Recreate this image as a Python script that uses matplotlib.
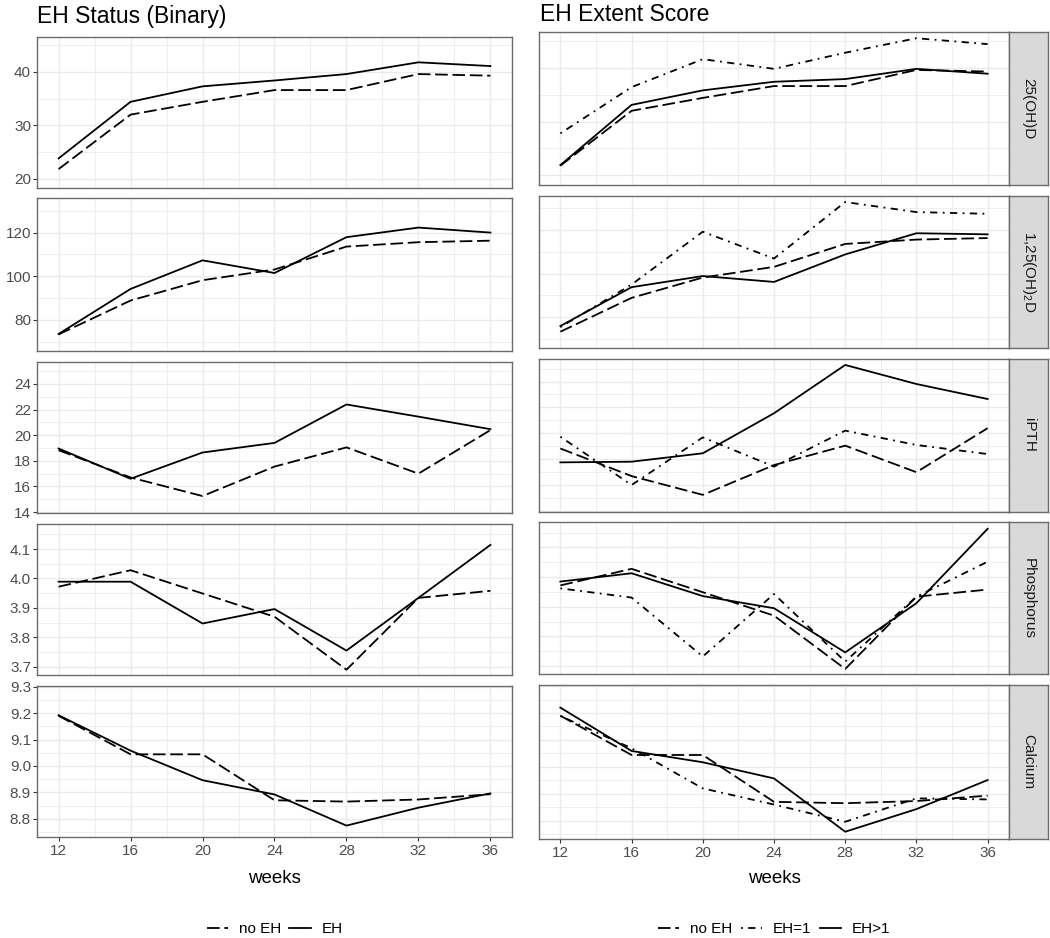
import numpy as np
import matplotlib
matplotlib.use("Agg")
import matplotlib.pyplot as plt
from matplotlib.lines import Line2D

plt.rcParams['font.family'] = ['Liberation Sans', 'DejaVu Sans']
plt.rcParams['mathtext.fontset'] = 'custom'
plt.rcParams['mathtext.rm'] = 'Liberation Sans'

# data
weeks = [12, 16, 20, 24, 28, 32, 36]
variables = ['25(OH)D', r'1,25(OH)$_\mathrm{2}$D', 'iPTH', 'Phosphorus', 'Calcium']

no_eh = [
    [21.8, 32.0, 34.4, 36.6, 36.6, 39.6, 39.3],
    [73.4, 88.9, 98.2, 103.1, 113.6, 115.6, 116.3],
    [18.83, 16.7, 15.25, 17.55, 19.05, 17.0, 20.4],
    [3.972, 4.028, 3.949, 3.870, 3.690, 3.934, 3.958],
    [9.190, 9.044, 9.044, 8.870, 8.865, 8.873, 8.893],
]
eh = [
    [23.8, 34.4, 37.3, 38.4, 39.6, 41.8, 41.1],
    [73.6, 94.2, 107.3, 101.5, 117.9, 122.3, 120.0],
    [18.96, 16.6, 18.65, 19.4, 22.4, 21.45, 20.47],
    [3.989, 3.989, 3.847, 3.896, 3.755, 3.934, 4.114],
    [9.192, 9.058, 8.946, 8.892, 8.774, 8.842, 8.896],
]
eh_1 = [
    [27.8, 36.4, 41.6, 39.8, 42.8, 45.5, 44.4],
    [75.5, 95.0, 119.2, 106.9, 132.8, 128.2, 127.4],
    [19.74, 16.01, 19.69, 17.43, 20.21, 19.1, 18.4],
    [3.962, 3.931, 3.732, 3.943, 3.715, 3.934, 4.052],
    [9.189, 9.069, 8.920, 8.860, 8.796, 8.883, 8.879],
]
eh_gt1 = [
    [21.9, 33.1, 35.8, 37.4, 37.9, 39.8, 38.9],
    [76.0, 93.8, 98.9, 96.2, 108.8, 118.5, 118.0],
    [17.76, 17.81, 18.46, 21.55, 25.28, 23.81, 22.65],
    [3.985, 4.013, 3.936, 3.895, 3.746, 3.912, 4.163],
    [9.220, 9.059, 9.017, 8.957, 8.759, 8.843, 8.951],
]

# axis settings per row
ylims = [(18.2, 46.6), (65.8, 135.7), (13.95, 25.74), (3.672, 4.185), (8.732, 9.304)]
yticks = [[20, 30, 40], [80, 100, 120], [14, 16, 18, 20, 22, 24],
          [3.7, 3.8, 3.9, 4.0, 4.1], [8.8, 8.9, 9.0, 9.1, 9.2, 9.3]]
yminor = [[25, 35, 45], [70, 90, 110, 130], [15, 17, 19, 21, 23, 25],
          [3.75, 3.85, 3.95, 4.05, 4.15], [8.75, 8.85, 8.95, 9.05, 9.15, 9.25]]
yfmt = ['{:.0f}', '{:.0f}', '{:.0f}', '{:.1f}', '{:.1f}']

W, H = 1050, 938
fig = plt.figure(figsize=(W / 100, H / 100), dpi=100)

left_x = (37, 512)
right_x = (539, 1009)
strip_x = (1009, 1048)
left_rows = [(36.7, 188.3), (198.3, 351), (361.7, 512.7), (524, 675), (685.7, 836.7)]
right_rows = [(32.3, 185), (195.7, 348.3), (359, 511.7), (522.3, 674.3), (685, 839)]

DASHED = (0, (7, 2.6))
DOTDASH = (0, (1, 3, 4, 3))
LW = 1.3
BORDER = '#6b6b6b'
GRID = '#EBEBEB'


def px_axes(x0, x1, top, bottom):
    return fig.add_axes([x0 / W, 1 - bottom / H, (x1 - x0) / W, (bottom - top) / H])


def style(ax, i, show_y, show_x):
    ax.set_xlim(10.8, 37.2)
    ax.set_ylim(*ylims[i])
    ax.set_xticks(weeks)
    ax.set_xticks([14, 18, 22, 26, 30, 34], minor=True)
    ax.set_yticks(yticks[i])
    ax.set_yticks(yminor[i], minor=True)
    ax.grid(True, which='major', color=GRID, lw=1.0)
    ax.grid(True, which='minor', color=GRID, lw=0.55)
    ax.set_axisbelow(True)
    for s in ax.spines.values():
        s.set_color(BORDER)
        s.set_linewidth(1.0)
    ax.tick_params(which='minor', length=0)
    ax.tick_params(which='major', length=2.75, width=0.8, color='#333333',
                   labelsize=11, labelcolor='#4D4D4D', pad=1.6)
    if show_y:
        ax.set_yticklabels([yfmt[i].format(v) for v in yticks[i]])
    else:
        ax.tick_params(axis='y', which='major', length=0, labelleft=False)
    if show_x:
        ax.set_xticklabels([str(w) for w in weeks])
        ax.tick_params(axis='x', pad=2.5)
    else:
        ax.tick_params(axis='x', which='major', length=0, labelbottom=False)


for i in range(5):
    # left column: binary EH status
    ax = px_axes(left_x[0], left_x[1], *left_rows[i])
    ax.plot(weeks, no_eh[i], color='black', lw=LW, ls=DASHED)
    ax.plot(weeks, eh[i], color='black', lw=LW, ls='-')
    style(ax, i, True, i == 4)

    # right column: EH extent score
    ax2 = px_axes(right_x[0], right_x[1], *right_rows[i])
    ax2.plot(weeks, no_eh[i], color='black', lw=LW, ls=DASHED)
    ax2.plot(weeks, eh_1[i], color='black', lw=LW, ls=DOTDASH)
    ax2.plot(weeks, eh_gt1[i], color='black', lw=LW, ls='-')
    style(ax2, i, False, i == 4)

    # strip on the right
    st = px_axes(strip_x[0], strip_x[1], *right_rows[i])
    st.set_facecolor('#D9D9D9')
    st.set_xticks([])
    st.set_yticks([])
    for s in st.spines.values():
        s.set_color(BORDER)
        s.set_linewidth(1.0)
    st.text(0.5, 0.5, variables[i], rotation=270, ha='center', va='center',
            fontsize=11, color='#1A1A1A', transform=st.transAxes)

# titles
fig.text(37 / W, 1 - 23.3 / H, 'EH Status (Binary)', fontsize=16.5,
         ha='left', va='baseline', color='black')
fig.text(540 / W, 1 - 21 / H, 'EH Extent Score', fontsize=16.5,
         ha='left', va='baseline', color='black')

# x labels
fig.text((left_x[0] + left_x[1]) / 2 / W, 1 - 883.3 / H, 'weeks', fontsize=13.5,
         ha='center', va='baseline')
fig.text((right_x[0] + right_x[1]) / 2 / W, 1 - 883.3 / H, 'weeks', fontsize=13.5,
         ha='center', va='baseline')

# legends
h_left = [Line2D([], [], color='black', lw=LW, ls=DASHED),
          Line2D([], [], color='black', lw=LW, ls='-')]
fig.legend(h_left, ['no EH', 'EH'], loc='center', ncol=2, frameon=False,
           bbox_to_anchor=((left_x[0] + left_x[1]) / 2 / W, 1 - 929 / H),
           fontsize=11, handlelength=1.4, handletextpad=0.7, columnspacing=0.55)

h_right = [Line2D([], [], color='black', lw=LW, ls=DASHED),
           Line2D([], [], color='black', lw=LW, ls=DOTDASH),
           Line2D([], [], color='black', lw=LW, ls='-')]
fig.legend(h_right, ['no EH', 'EH=1', 'EH>1'], loc='center', ncol=3, frameon=False,
           bbox_to_anchor=((right_x[0] + right_x[1]) / 2 / W, 1 - 929 / H),
           fontsize=11, handlelength=1.4, handletextpad=0.7, columnspacing=0.55)

fig.savefig('out.png', dpi=100)
